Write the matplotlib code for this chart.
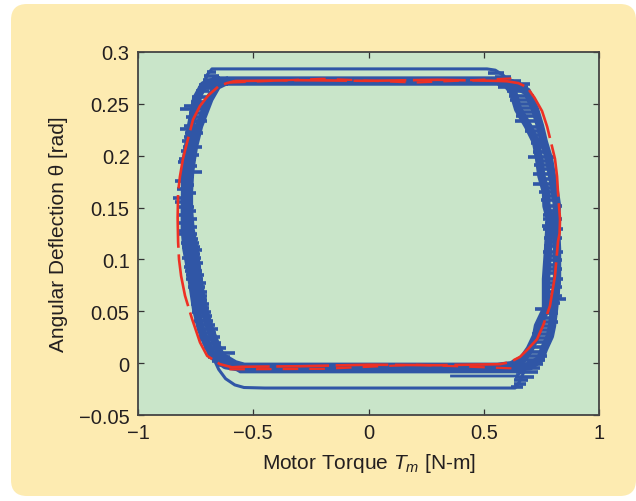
import matplotlib
matplotlib.use("Agg")
import matplotlib.pyplot as plt
from matplotlib.patches import FancyBboxPatch

plt.rcParams['font.family'] = ['Liberation Sans', 'DejaVu Sans']
plt.rcParams['mathtext.fontset'] = 'custom'
plt.rcParams['mathtext.rm'] = 'Liberation Sans'
plt.rcParams['mathtext.it'] = 'Liberation Sans:italic'

# ---------------- data ----------------
xticks = [-1, -0.5, 0, 0.5, 1]
xtick_labels = ['\u22121', '\u22120.5', '0', '0.5', '1']
yticks = [-0.05, 0, 0.05, 0.1, 0.15, 0.2, 0.25, 0.3]
ytick_labels = ['\u22120.05', '0', '0.05', '0.1', '0.15', '0.2', '0.25', '0.3']

# measured loop, outer pass
blue_a_x = [-0.66, 0.55, 0.62, 0.687, 0.722, 0.744, 0.761, 0.783, 0.796, 0.809, 0.818,
            0.812, 0.818, 0.818, 0.805, 0.796, 0.787, 0.761, 0.745, 0.70, 0.62,
            -0.55, -0.62, -0.675, -0.705, -0.727, -0.748, -0.761, -0.774, -0.790,
            -0.797, -0.797, -0.796, -0.796, -0.792, -0.783, -0.770, -0.748, -0.715, -0.66]
blue_a_y = [0.2725, 0.2725, 0.2700, 0.262, 0.245, 0.2287, 0.213, 0.197, 0.1805, 0.165, 0.1515,
            0.139, 0.110, 0.0811, 0.0522, 0.0358, 0.0262, 0.0136, 0.004, -0.003, -0.0045,
            -0.0045, -0.002, 0.0069, 0.0204, 0.033, 0.0522, 0.0715, 0.0908, 0.110,
            0.129, 0.149, 0.165, 0.184, 0.197, 0.209, 0.2287, 0.2547, 0.268, 0.2725]
# measured loop, inner pass
blue_b_x = [-0.62, 0.56, 0.60, 0.627, 0.649, 0.692, 0.727, 0.74, 0.75, 0.77, 0.772,
            0.787, 0.779, 0.77, 0.77, 0.735, 0.727, 0.70, 0.67, 0.62, 0.56,
            -0.54, -0.58, -0.64, -0.666, -0.688, -0.714, -0.731, -0.744, -0.755,
            -0.772, -0.779, -0.779, -0.774, -0.766, -0.757, -0.735, -0.69, -0.657, -0.62]
blue_b_y = [0.2715, 0.2715, 0.2690, 0.2615, 0.245, 0.2287, 0.213, 0.197, 0.1805, 0.165, 0.1515,
            0.139, 0.110, 0.0811, 0.0522, 0.0358, 0.0262, 0.0136, 0.004, -0.002, -0.0035,
            -0.0035, -0.001, 0.0069, 0.0204, 0.033, 0.0522, 0.0715, 0.0908, 0.110,
            0.129, 0.149, 0.165, 0.184, 0.197, 0.209, 0.2287, 0.2547, 0.2675, 0.2715]
# outer top excursion
top_out_x = [-0.74, -0.72, -0.70, -0.679, 0.514, 0.55, 0.585, 0.615, 0.65]
top_out_y = [0.245, 0.265, 0.278, 0.2837, 0.2837, 0.2825, 0.2775, 0.270, 0.262]
# outer bottom excursion
bot_out_x = [-0.70, -0.675, -0.65, -0.62, -0.58, -0.54, -0.45, 0.636, 0.655, 0.675, 0.70]
bot_out_y = [0.02, 0.006, -0.006, -0.015, -0.021, -0.0235, -0.024, -0.024, -0.018, -0.008, 0.004]
# extra bottom passes
bot_mid_x = [-0.60, -0.557, 0.64, 0.68]
bot_mid_y = [-0.002, -0.0085, -0.0085, -0.002]
bot_low_x = [0.354, 0.64, 0.68]
bot_low_y = [-0.0124, -0.0124, -0.006]

# noise spikes on the left side: level, left end, right end
spike_l_y = [0.281, 0.277, 0.273, 0.268, 0.265,
             0.262, 0.257, 0.252, 0.248, 0.245, 0.241, 0.237, 0.233, 0.229, 0.226, 0.222,
             0.218, 0.214, 0.2085, 0.205, 0.201, 0.197, 0.194, 0.190, 0.187, 0.184, 0.180,
             0.176, 0.172, 0.168, 0.164, 0.159, 0.155, 0.151, 0.147, 0.143, 0.139, 0.135,
             0.131, 0.127, 0.1245, 0.120, 0.116, 0.112, 0.109, 0.105, 0.101, 0.097, 0.093,
             0.0889, 0.085, 0.081, 0.077, 0.073, 0.069, 0.065, 0.061, 0.057, 0.053, 0.049,
             0.045, 0.041, 0.037, 0.033, 0.029, 0.025, 0.0233, 0.019, 0.015, 0.010, 0.006,
             0.002, -0.002]
spike_l_x0 = [-0.70, -0.715, -0.72, -0.735, -0.74,
              -0.75, -0.765, -0.77, -0.80, -0.818, -0.78, -0.79, -0.785, -0.80, -0.818, -0.795,
              -0.80, -0.81, -0.805, -0.815, -0.80, -0.822, -0.826, -0.81, -0.815, -0.809, -0.82,
              -0.839, -0.815, -0.83, -0.815, -0.85, -0.839, -0.82, -0.815, -0.83, -0.815, -0.822,
              -0.81, -0.825, -0.826, -0.81, -0.815, -0.81, -0.805, -0.80, -0.81, -0.795, -0.80,
              -0.796, -0.79, -0.79, -0.78, -0.785, -0.775, -0.77, -0.766, -0.772, -0.76, -0.765,
              -0.75, -0.755, -0.745, -0.74, -0.73, -0.735, -0.74, -0.72, -0.715, -0.70, -0.695,
              -0.68, -0.655]
spike_l_x1 = [-0.66, -0.65, -0.64, -0.66, -0.68,
              -0.69, -0.70, -0.69, -0.72, -0.696, -0.705, -0.72, -0.70, -0.73, -0.731, -0.72,
              -0.735, -0.74, -0.722, -0.745, -0.735, -0.75, -0.753, -0.745, -0.76, -0.722, -0.755,
              -0.787, -0.755, -0.76, -0.75, -0.80, -0.766, -0.755, -0.75, -0.762, -0.745, -0.76,
              -0.745, -0.755, -0.744, -0.74, -0.735, -0.73, -0.722, -0.73, -0.725, -0.72, -0.725,
              -0.722, -0.715, -0.72, -0.705, -0.71, -0.70, -0.70, -0.70, -0.69, -0.69, -0.685,
              -0.68, -0.675, -0.665, -0.655, -0.66, -0.645, -0.653, -0.64, -0.62, -0.58, -0.60,
              -0.585, -0.56]
# noise spikes on the right side
spike_r_y = [0.280, 0.276, 0.272, 0.269,
             0.266, 0.262, 0.258, 0.254, 0.250, 0.246, 0.242, 0.238, 0.2335, 0.228, 0.224,
             0.220, 0.216, 0.212, 0.208, 0.204, 0.1988, 0.195, 0.191, 0.187, 0.1824, 0.178,
             0.1728, 0.169, 0.165, 0.161, 0.157, 0.1515, 0.147, 0.143, 0.139, 0.135, 0.132,
             0.129, 0.125, 0.121, 0.117, 0.113, 0.107, 0.103, 0.099, 0.095, 0.091, 0.087,
             0.081, 0.077, 0.073, 0.069, 0.065, 0.062, 0.058, 0.052, 0.048, 0.044, 0.040,
             0.036, 0.032, 0.028, 0.024, 0.020, 0.016, 0.0108, 0.007, 0.003, -0.001, -0.005,
             -0.009, -0.013, -0.016, -0.020, -0.023]
spike_r_x0 = [0.52, 0.55, 0.57, 0.58,
              0.56, 0.60, 0.61, 0.615, 0.625, 0.635, 0.645, 0.64, 0.636, 0.679, 0.68,
              0.70, 0.71, 0.705, 0.72, 0.715, 0.692, 0.73, 0.72, 0.735, 0.714, 0.74,
              0.714, 0.75, 0.74, 0.755, 0.75, 0.757, 0.76, 0.755, 0.757, 0.765, 0.753,
              0.757, 0.765, 0.76, 0.77, 0.762, 0.757, 0.765, 0.77, 0.76, 0.765, 0.77,
              0.757, 0.765, 0.76, 0.77, 0.762, 0.766, 0.76, 0.722, 0.75, 0.745, 0.735,
              0.722, 0.725, 0.71, 0.715, 0.70, 0.69, 0.679, 0.675, 0.66, 0.655, 0.645,
              0.64, 0.635, 0.63, 0.63, 0.62]
spike_r_x1 = [0.59, 0.62, 0.66, 0.70,
              0.69, 0.70, 0.72, 0.705, 0.725, 0.73, 0.725, 0.74, 0.744, 0.757, 0.75,
              0.762, 0.765, 0.77, 0.78, 0.785, 0.809, 0.795, 0.80, 0.80, 0.809, 0.81,
              0.813, 0.82, 0.815, 0.825, 0.83, 0.839, 0.825, 0.835, 0.839, 0.83, 0.835,
              0.844, 0.832, 0.84, 0.83, 0.835, 0.844, 0.835, 0.84, 0.83, 0.84, 0.832,
              0.844, 0.835, 0.84, 0.83, 0.838, 0.857, 0.83, 0.809, 0.82, 0.815, 0.82,
              0.80, 0.805, 0.80, 0.79, 0.79, 0.78, 0.77, 0.775, 0.765, 0.755, 0.745,
              0.735, 0.72, 0.69, 0.685, 0.67]

# model (red) loop
red_x = [-0.58, -0.30, 0.0, 0.30, 0.55, 0.60, 0.65, 0.688, 0.72, 0.753, 0.775, 0.796, 0.809,
         0.818, 0.822, 0.831, 0.829, 0.822, 0.809, 0.787, 0.757, 0.731, 0.692, 0.657, 0.614,
         0.57, 0.30, 0.0, -0.30, -0.55, -0.592, -0.644, -0.70, -0.731, -0.766, -0.796, -0.813,
         -0.822, -0.826, -0.828, -0.826, -0.818, -0.805, -0.787, -0.761, -0.731, -0.696, -0.65,
         -0.614, -0.58]
red_y = [0.272, 0.2728, 0.2722, 0.2732, 0.2722, 0.2718, 0.270, 0.266, 0.256, 0.243, 0.228, 0.209,
         0.197, 0.180, 0.165, 0.139, 0.125, 0.117, 0.084, 0.055, 0.036, 0.023, 0.0136, 0.006,
         0.001, -0.001, -0.002, -0.0015, -0.003, -0.0035, -0.004, -0.001, 0.007, 0.020, 0.043,
         0.065, 0.084, 0.100, 0.117, 0.140, 0.165, 0.180, 0.197, 0.213, 0.235, 0.248, 0.258,
         0.267, 0.270, 0.272]
red2_top_x = [-0.60, -0.2, 0.2, 0.62]
red2_top_y = [0.2705, 0.2742, 0.2705, 0.2745]
red2_bot_x = [0.62, 0.2, -0.2, -0.62]
red2_bot_y = [-0.005, -0.0015, -0.0055, -0.006]

# ---------------- figure ----------------
BLUE = '#3056A6'
RED = '#EE3024'

fig = plt.figure(figsize=(6.36, 5.02), dpi=100)
fig.patch.set_facecolor('white')
box = FancyBboxPatch((0.11, 0.05), 6.25, 4.92,
                     boxstyle='round,pad=0,rounding_size=0.16',
                     transform=fig.dpi_scale_trans, facecolor='#FDEBB1',
                     edgecolor='none', zorder=-10)
fig.patches.append(box)

ax = fig.add_axes([138 / 636, 86 / 502, 461 / 636, 363 / 502])
ax.set_zorder(1)
ax.set_facecolor('#C9E5C9')

ax.plot(top_out_x, top_out_y, color=BLUE, lw=2.2, solid_capstyle='butt')
ax.plot(bot_out_x, bot_out_y, color=BLUE, lw=2.2, solid_capstyle='butt')
ax.plot(bot_mid_x, bot_mid_y, color=BLUE, lw=2.0, solid_capstyle='butt')
ax.plot(bot_low_x, bot_low_y, color=BLUE, lw=2.0, solid_capstyle='butt')
ax.plot(blue_a_x, blue_a_y, color=BLUE, lw=6, solid_joinstyle='round')
ax.plot(blue_b_x, blue_b_y, color=BLUE, lw=6, solid_joinstyle='round')
ax.hlines(spike_l_y, spike_l_x0, spike_l_x1, color=BLUE, lw=2.6)
ax.hlines(spike_r_y, spike_r_x0, spike_r_x1, color=BLUE, lw=2.6)

ax.plot(red_x, red_y, color=RED, lw=1.9, dashes=(20, 2.5))
ax.plot(red2_top_x, red2_top_y, color=RED, lw=1.6, dashes=(7, 5))
ax.plot(red2_bot_x, red2_bot_y, color=RED, lw=1.6, dashes=(7, 5))

ax.set_xlim(-1, 1)
ax.set_ylim(-0.05, 0.3)
ax.set_xticks(xticks)
ax.set_xticklabels(xtick_labels)
ax.set_yticks(yticks)
ax.set_yticklabels(ytick_labels)
ax.tick_params(direction='in', length=4, width=0.9, top=True, right=True,
               labelsize=14.5, pad=6, color='#333333', labelcolor='#231F20')
for s in ax.spines.values():
    s.set_color('#444444')
    s.set_linewidth(1.3)

ax.set_xlabel('Motor Torque $T_m$ [N-m]', fontsize=15, color='#231F20', labelpad=6)
ax.set_ylabel('Angular Deflection \u03b8 [rad]', fontsize=15, color='#231F20', labelpad=8)

fig.savefig('out.png', dpi=100, facecolor=fig.get_facecolor())
